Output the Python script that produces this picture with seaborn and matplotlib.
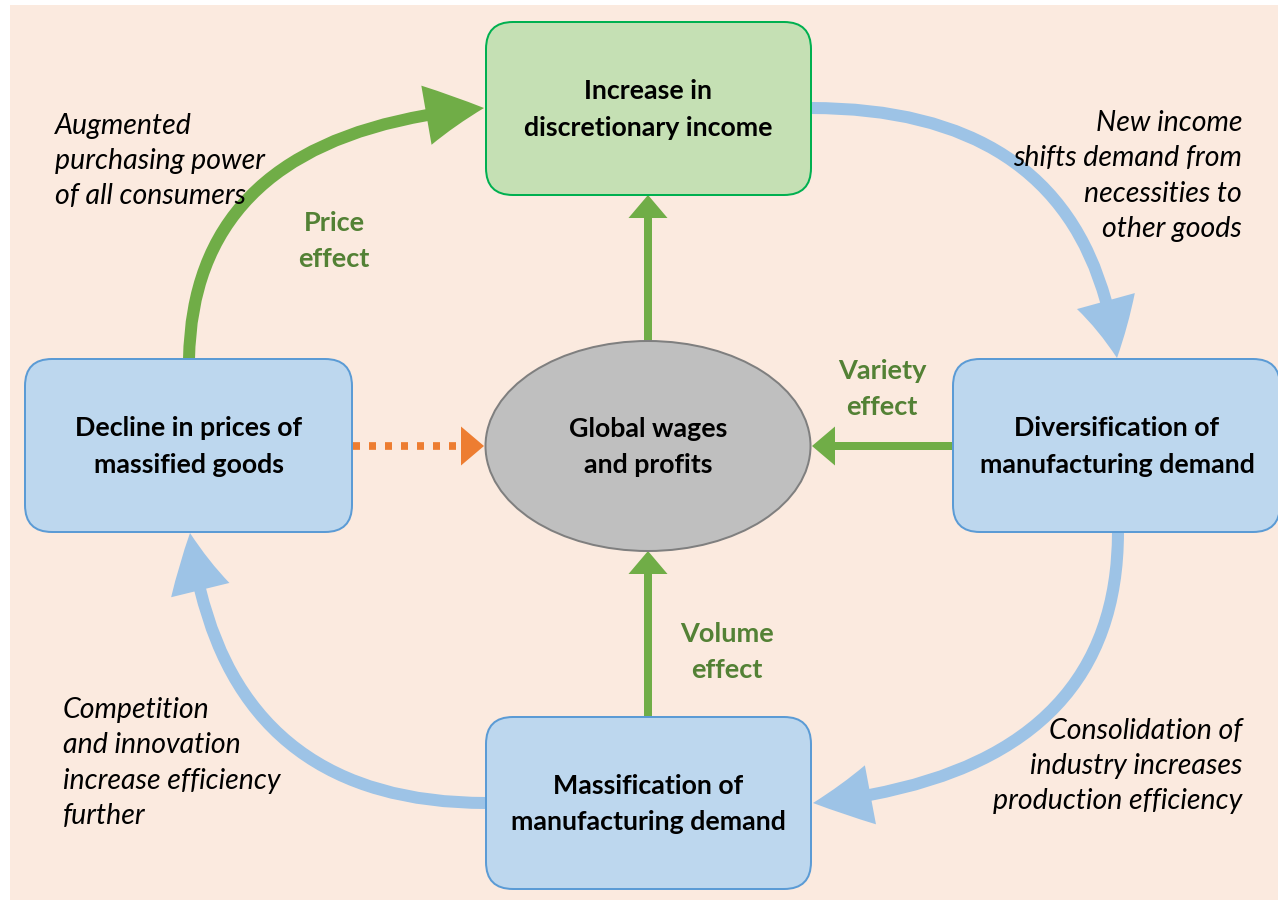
import matplotlib
matplotlib.use("Agg")
import matplotlib.pyplot as plt
import seaborn as sns
from matplotlib.patches import FancyBboxPatch, Ellipse, FancyArrowPatch, Polygon, Rectangle
from matplotlib.path import Path

sns.set_theme(style="white")
plt.rcParams['font.family'] = ['Lato', 'DejaVu Sans']

# -------------------------------
# Diagram text
# -------------------------------
box_labels = ["Increase in\ndiscretionary income",
              "Diversification of\nmanufacturing demand",
              "Massification of\nmanufacturing demand",
              "Decline in prices of\nmassified goods"]
center_label = "Global wages\nand profits"
effect_labels = ["Price\neffect", "Variety\neffect", "Volume\neffect"]
note_labels = ["Augmented\npurchasing power\nof all consumers",
               "New income\nshifts demand from\nnecessities to\nother goods",
               "Consolidation of\nindustry increases\nproduction efficiency",
               "Competition\nand innovation\nincrease efficiency\nfurther"]

# colours (Office-like palette)
bg = "#FBEADF"
green_fill, green_edge = "#C5E0B4", "#00B050"
blue_fill, blue_edge = "#BDD7EE", "#5B9BD5"
green_arrow, green_text = "#70AD47", "#538135"
blue_arrow = "#9DC3E6"
orange = "#ED7D31"

PX = 0.72  # pixels -> points at dpi 100
BOLD_FS, ITAL_FS = 19.3, 20.5

fig = plt.figure(figsize=(12.78, 9), dpi=100)
ax = fig.add_axes([0, 0, 1, 1])
ax.set_xlim(0, 1278)
ax.set_ylim(900, 0)
ax.axis('off')
fig.patch.set_facecolor('white')
ax.add_patch(Rectangle((10, 5), 1270, 897, fc=bg, ec='none', zorder=0))

# -------------------------------
# Boxes and centre ellipse
# -------------------------------
boxes = [(486, 22, 325, 173), (953, 359, 327, 173),
         (486, 717, 325, 172), (25, 359, 327, 173)]
for i, (x0, y0, w, h) in enumerate(boxes):
    fc, ec = (green_fill, green_edge) if i == 0 else (blue_fill, blue_edge)
    ax.add_patch(FancyBboxPatch((x0, y0), w, h, boxstyle="round,pad=0,rounding_size=27",
                                fc=fc, ec=ec, lw=2 * PX, zorder=3))
    ax.text(x0 + w / 2 if i != 1 else 1117, y0 + h / 2 + 1, box_labels[i], ha='center', va='center',
            fontsize=BOLD_FS, fontweight='bold', color='black', linespacing=1.62, zorder=4)

ax.add_patch(Ellipse((648, 446), 325, 210, fc="#BFBFBF", ec="#7F7F7F", lw=2 * PX, zorder=3))
ax.text(648, 447, center_label, ha='center', va='center', fontsize=BOLD_FS,
        fontweight='bold', color='black', linespacing=1.62, zorder=4)


# -------------------------------
# Curved cycle arrows (quadratic bezier)
# -------------------------------
def curved(p0, c, p1, color, tail=12, hw=60, hl=58):
    style = f"simple,head_length={hl * PX},head_width={hw * PX},tail_width={tail * PX}"
    ax.add_patch(FancyArrowPatch(path=Path([p0, c, p1], [Path.MOVETO, Path.CURVE3, Path.CURVE3]),
                                 arrowstyle=style, mutation_scale=1, fc=color, ec='none',
                                 lw=0, zorder=2))


curved((189, 359), (193, 132), (484, 108), green_arrow)
curved((811, 108), (1086, 108), (1117, 358), blue_arrow)
curved((1118, 532), (1118, 772), (813, 803), blue_arrow)
curved((486, 803), (223, 803), (190, 533), blue_arrow)


# straight green arrows
def straight(p0, p1):
    style = f"simple,head_length={23 * PX},head_width={39 * PX},tail_width={8 * PX}"
    ax.add_patch(FancyArrowPatch(p0, p1, arrowstyle=style, mutation_scale=1, shrinkA=0, shrinkB=0,
                                 fc=green_arrow, ec='none', lw=0, zorder=2))


straight((648, 341), (648, 195))
straight((648, 717), (648, 551))
straight((953, 446), (812, 446))

# dotted orange arrow
ax.plot([353, 462], [446, 446], color=orange, lw=7.7 * PX,
        linestyle=(0, (7 / 7.7, 9 / 7.7)), solid_capstyle='butt', zorder=2)
tip_x, head_len, head_half = 484, 23, 19.5
ax.add_patch(Polygon([(tip_x, 446), (tip_x - head_len, 446 - head_half),
                      (tip_x - head_len, 446 + head_half)], closed=True,
                     fc=orange, ec='none', zorder=2))

# -------------------------------
# Effect labels
# -------------------------------
for txt, (x, y) in zip(effect_labels, [(334, 241), (882, 389), (727, 652)]):
    ax.text(x, y, txt, ha='center', va='center', fontsize=19.5, fontweight='bold',
            color=green_text, linespacing=1.57, zorder=4)

# -------------------------------
# Italic notes
# -------------------------------
note_pos = [(55, 161, 'left'), (1242, 176, 'right'), (1242, 766, 'right'), (63, 763, 'left')]
for txt, (x, y, ha) in zip(note_labels, note_pos):
    ax.text(x, y, txt, ha=ha, va='center', fontsize=ITAL_FS, fontstyle='italic',
            color='black', linespacing=1.45, zorder=4)

fig.savefig("out.png", dpi=100, facecolor='white')
